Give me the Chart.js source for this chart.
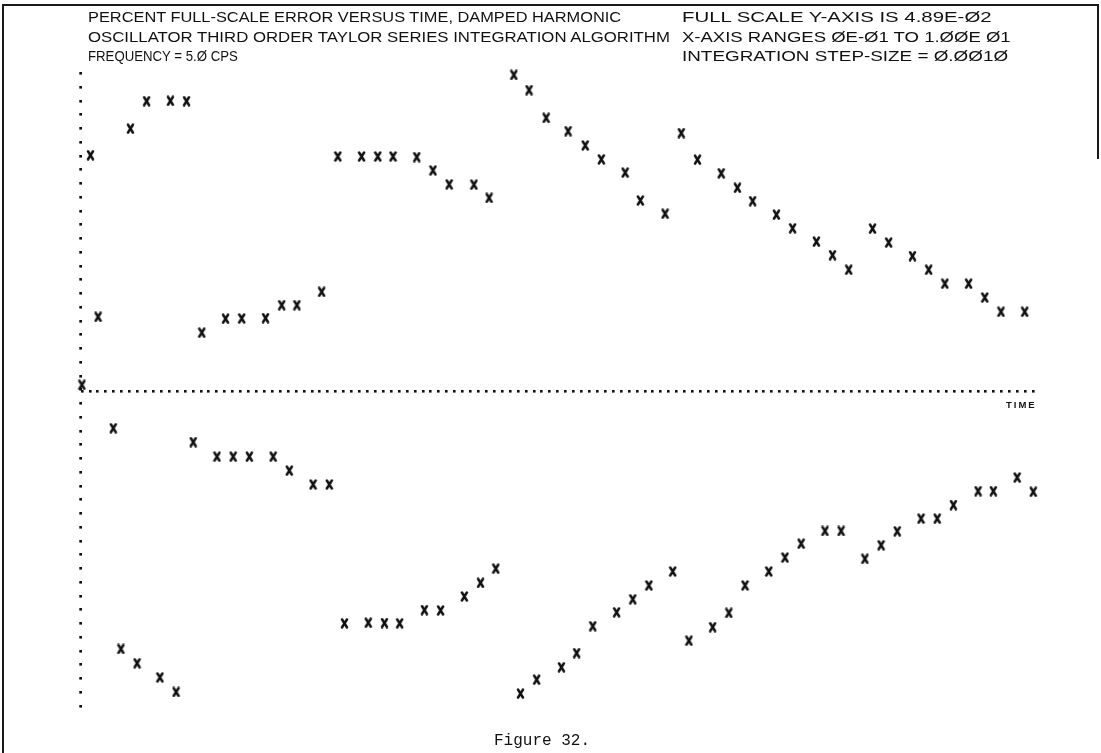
<!DOCTYPE html>
<html>
<head>
<meta charset="utf-8">
<script src="https://cdn.jsdelivr.net/npm/chart.js@4"></script>
<style>
  html, body { margin: 0; padding: 0; background: #fff; }
  #page { position: relative; width: 1101px; height: 753px; overflow: hidden; background: #fff; }
  #chart { position: absolute; left: 0; top: 0; }
  .frame { position: absolute; left: 2px; top: 4px; width: 1095px; height: 800px;
           border-left: 2px solid #1a1a1a; border-top: 2px solid #1a1a1a; }
  .frame-r { position: absolute; left: 1097px; top: 4px; width: 2px; height: 155px; background: #1a1a1a; }
  .hdr { position: absolute; font-family: "Liberation Sans", Arial, sans-serif; font-size: 14px;
         line-height: 14px; color: #111; white-space: nowrap; transform-origin: 0 0; }
  .fig { position: absolute; left: 494px; top: 733px; font-family: "Liberation Mono", "Courier New", monospace;
         font-size: 16px; line-height: 16px; color: #111; white-space: nowrap; }
  .time { position: absolute; left: 1006px; top: 400px; font-family: "Liberation Sans", Arial, sans-serif;
          font-weight: bold; font-size: 9.5px; line-height: 9.5px; letter-spacing: 2px; color: #111; }
</style>
</head>
<body>
<div id="page">
  <canvas id="chart" width="1101" height="753"></canvas>
  <div class="frame"></div>
  <div class="frame-r"></div>
  <div class="hdr" style="left:88px; top:10px" data-w="533">PERCENT FULL-SCALE ERROR VERSUS TIME, DAMPED HARMONIC</div>
  <div class="hdr" style="left:88px; top:29.5px" data-w="582">OSCILLATOR THIRD ORDER TAYLOR SERIES INTEGRATION ALGORITHM</div>
  <div class="hdr" style="left:88px; top:48.5px" data-w="150">FREQUENCY = 5.Ø CPS</div>
  <div class="hdr" style="left:682px; top:10px" data-w="310">FULL SCALE Y-AXIS IS 4.89E-Ø2</div>
  <div class="hdr" style="left:682px; top:29.5px" data-w="328">X-AXIS RANGES ØE-Ø1 TO 1.ØØE Ø1</div>
  <div class="hdr" style="left:682px; top:48.5px" data-w="326">INTEGRATION STEP-SIZE = Ø.ØØ1Ø</div>
  <div class="time">TIME</div>
  <div class="fig">Figure 32.</div>
</div>
<script>
// time in seconds, as printed (x-axis 0 to 10)
const timeSec = [
  0.00, 0.09, 0.17, 0.33, 0.41, 0.51, 0.58, 0.68, 0.82, 0.93, 0.99, 1.10,
  1.17, 1.26, 1.42, 1.51, 1.59, 1.68, 1.76, 1.93, 2.01, 2.10, 2.18, 2.26, 2.43, 2.52, 2.60,
  2.69, 2.76, 2.94, 3.01, 3.11, 3.18, 3.27, 3.34, 3.52, 3.60, 3.69, 3.77, 3.86, 4.02, 4.12, 4.19, 4.28, 4.35,
  4.54, 4.61, 4.70, 4.78, 4.88, 5.04, 5.11, 5.20, 5.29, 5.37, 5.46, 5.62, 5.71, 5.79, 5.87, 5.96, 6.13, 6.21,
  6.30, 6.38, 6.47, 6.63, 6.72, 6.80, 6.89, 6.97, 7.05, 7.22, 7.30, 7.39, 7.47, 7.56, 7.72, 7.81, 7.89, 7.98, 8.06,
  8.23, 8.31, 8.40, 8.48, 8.57, 8.73, 8.82, 8.90, 8.99, 9.07, 9.16, 9.32, 9.42, 9.49, 9.58, 9.66, 9.83, 9.91, 10.00
];

// percent full-scale error
const errorPct = [
  1.5, 74.1, 23.0, -12.2, -82.0, 82.5, -86.5, 91.2, -91.0, 91.3, -95.6, 91.2,
  -16.6, 18.0, -21.2, 22.4, -21.2, 22.5, -21.2, 22.6, -21.2, 26.7, -25.6, 26.7, -30.0, 30.9, -30.0,
  73.7, -73.9, 73.7, -73.7, 73.7, -73.8, 73.7, -73.9, 73.5, -69.7, 69.3, -69.8, 64.9, -65.4, 64.8, -61.1, 60.6, -56.6,
  99.5, -96.1, 94.7, -91.7, 85.9, -87.8, 81.7, -83.3, 77.2, -74.8, 72.8, -70.4, 68.6, -66.3, 59.8, -61.9, 55.6, -57.5,
  81.1, -79.4, 72.7, -75.1, 68.4, -70.6, 63.8, -61.9, 59.6, -57.5, 55.3, -53.1, 51.0, -48.7, 46.8, -44.7, 42.5, -44.7, 37.9,
  -53.5, 50.9, -49.2, 46.5, -44.8, 42.2, -40.8, 37.9, -40.8, 33.5, -36.5, 33.5, -32.1, 29.1, -32.1, 24.6, -27.8, 24.6, -32.3
];

// printer columns and lines used for the dotted axes
const xDotStep = 10 / 120;
const yDotStep = 100 / 23;

// stretch header lines to the printed widths
document.querySelectorAll(".hdr").forEach(el => {
  const s = Number(el.dataset.w) / el.offsetWidth;
  el.style.transform = `scaleX(${s})`;
});

// printer style "x" marker
const mark = document.createElement("canvas");
mark.width = 9;
mark.height = 11;
const mctx = mark.getContext("2d");
mctx.strokeStyle = "#111";
mctx.lineWidth = 2.5;
mctx.lineCap = "round";
mctx.beginPath();
mctx.moveTo(2, 1.5); mctx.lineTo(7, 9.5);
mctx.moveTo(7, 1.5); mctx.lineTo(2, 9.5);
mctx.stroke();

// tick marks drawn as short dots make the dotted axes
const dotGrid = {display: true, drawOnChartArea: false, drawTicks: true, tickLength: 2.6, lineWidth: 2.6, color: "#111"};

new Chart(document.getElementById("chart"), {
  type: "scatter",
  data: {
    datasets: [{
      label: "error",
      data: timeSec.map((t, i) => ({x: t, y: errorPct[i]})),
      pointStyle: mark,
      pointRadius: 5,
      clip: false
    }]
  },
  options: {
    responsive: false,
    animation: false,
    devicePixelRatio: 1,
    layout: { autoPadding: false, padding: {left: 79.3, top: 73.3, right: 67.7, bottom: 47.1} },
    plugins: { legend: {display: false}, tooltip: {enabled: false} },
    scales: {
      x: {
        type: "linear", min: 0, max: 10,
        position: {y: 0},
        grid: dotGrid,
        ticks: {display: false, stepSize: xDotStep},
        border: {display: false}
      },
      y: {
        type: "linear", min: -100, max: 100,
        grid: dotGrid,
        ticks: {display: false, stepSize: yDotStep},
        border: {display: false}
      }
    }
  }
});
</script>
</body>
</html>
